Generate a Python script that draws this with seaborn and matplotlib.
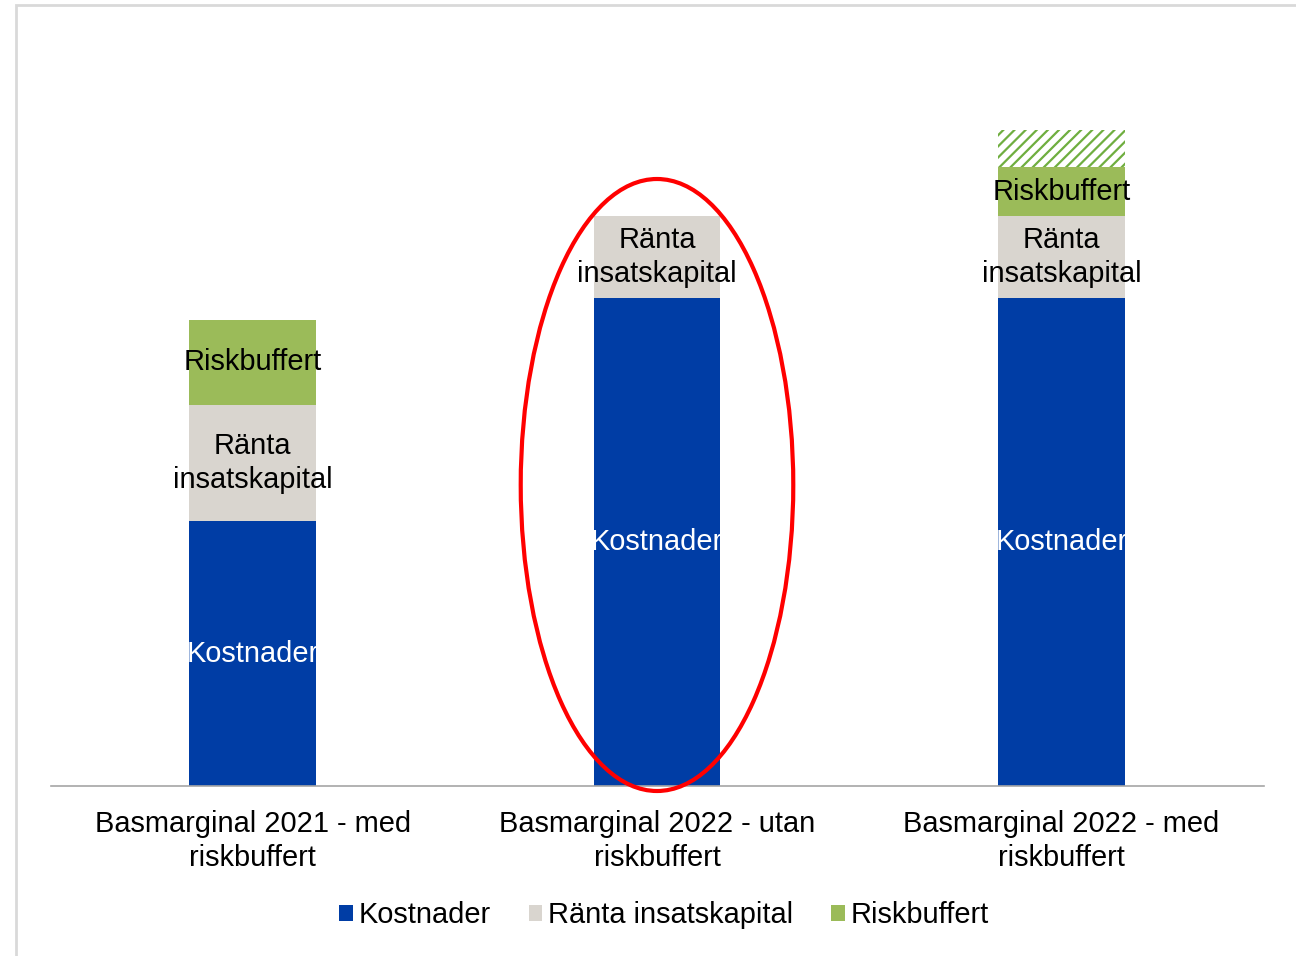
import numpy as np
import pandas as pd
import matplotlib.pyplot as plt
import seaborn as sns
from matplotlib.patches import Ellipse, Rectangle, Patch

# Data (heights, arbitrary units)
categories = ["Basmarginal 2021 - med\nriskbuffert",
              "Basmarginal 2022 - utan\nriskbuffert",
              "Basmarginal 2022 - med\nriskbuffert"]
kostnader = [265, 488, 488]
ranta = [116, 82, 82]
riskbuffert = [85, 0, 49]
extra = [0, 0, 37]          # hatched part on top of the last bar

series_names = ["Kostnader", "Ränta insatskapital", "Riskbuffert"]
colors = ["#003DA5", "#D9D5CF", "#9BBB59"]
hatch_green = "#6FAE3F"

sns.set_theme(style="white")
plt.rcParams['font.family'] = ['Liberation Sans', 'DejaVu Sans']
plt.rcParams['hatch.linewidth'] = 1.6
plt.rcParams['text.color'] = 'black'

df = pd.DataFrame({"cat": categories, "Kostnader": kostnader,
                   "Ränta": ranta, "Riskbuffert": riskbuffert, "Extra": extra})
df["c1"] = df["Kostnader"]
df["c2"] = df["c1"] + df["Ränta"]
df["c3"] = df["c2"] + df["Riskbuffert"]
df["c4"] = df["c3"] + df["Extra"]

fig = plt.figure(figsize=(12.96, 9.56), dpi=100)
ax = fig.add_axes([50.5 / 1296, (956 - 786) / 956, (1265 - 52) / 1296, (786 - 30) / 956])

W = 0.314
# stacked bars drawn as overlapping cumulative totals
sns.barplot(data=df, x="cat", y="c4", color="white", saturation=1, width=W,
            hatch="///", edgecolor=hatch_green, linewidth=0, errorbar=None, ax=ax)
sns.barplot(data=df, x="cat", y="c3", color=colors[2], saturation=1, width=W,
            linewidth=0, errorbar=None, ax=ax)
sns.barplot(data=df, x="cat", y="c2", color=colors[1], saturation=1, width=W,
            linewidth=0, errorbar=None, ax=ax)
sns.barplot(data=df, x="cat", y="c1", color=colors[0], saturation=1, width=W,
            linewidth=0, errorbar=None, ax=ax)

fs = 20.9
for i in range(len(categories)):
    k, r, rb = kostnader[i], ranta[i], riskbuffert[i]
    ax.text(i, k / 2, "Kostnader", ha="center", va="center", color="white", fontsize=fs)
    ax.text(i, k + r / 2, "Ränta\ninsatskapital", ha="center", va="center",
            color="black", fontsize=fs, linespacing=1.3)
    if rb > 0:
        ax.text(i, k + r + rb / 2, "Riskbuffert", ha="center", va="center",
                color="black", fontsize=fs)

# red ellipse around the middle bar
ax.add_patch(Ellipse((1, 786 - 485), 273 / 405, 612, fill=False,
                     edgecolor="#FF0000", linewidth=3, clip_on=False, zorder=5))

ax.set_xlim(-0.5, 2.5)
ax.set_ylim(0, 756)
ax.set_xlabel("")
ax.set_ylabel("")
ax.set_yticks([])
ax.tick_params(axis="x", length=0, pad=17, labelsize=fs, colors="black")
for lbl in ax.get_xticklabels():
    lbl.set_linespacing(1.3)
for s in ["top", "right", "left"]:
    ax.spines[s].set_visible(False)
ax.spines["bottom"].set_color("#A6A6A6")
ax.spines["bottom"].set_linewidth(1.2)

handles = [Patch(facecolor=c, edgecolor="none", label=n) for c, n in zip(colors, series_names)]
fig.legend(handles=handles, loc="center", bbox_to_anchor=(664 / 1296, 1 - 915 / 956),
           ncol=3, frameon=False, fontsize=fs, handlelength=0.48, handleheight=0.48,
           handletextpad=0.2, columnspacing=1.3, labelcolor="black")

# light grey frame around the chart
fig.add_artist(Rectangle((15.5 / 1296, -0.1), 1.2, 1 - 5.3 / 956 + 0.1,
                         transform=fig.transFigure, fill=False,
                         edgecolor="#D9D9D9", linewidth=2))

fig.savefig("out.png", dpi=100)
